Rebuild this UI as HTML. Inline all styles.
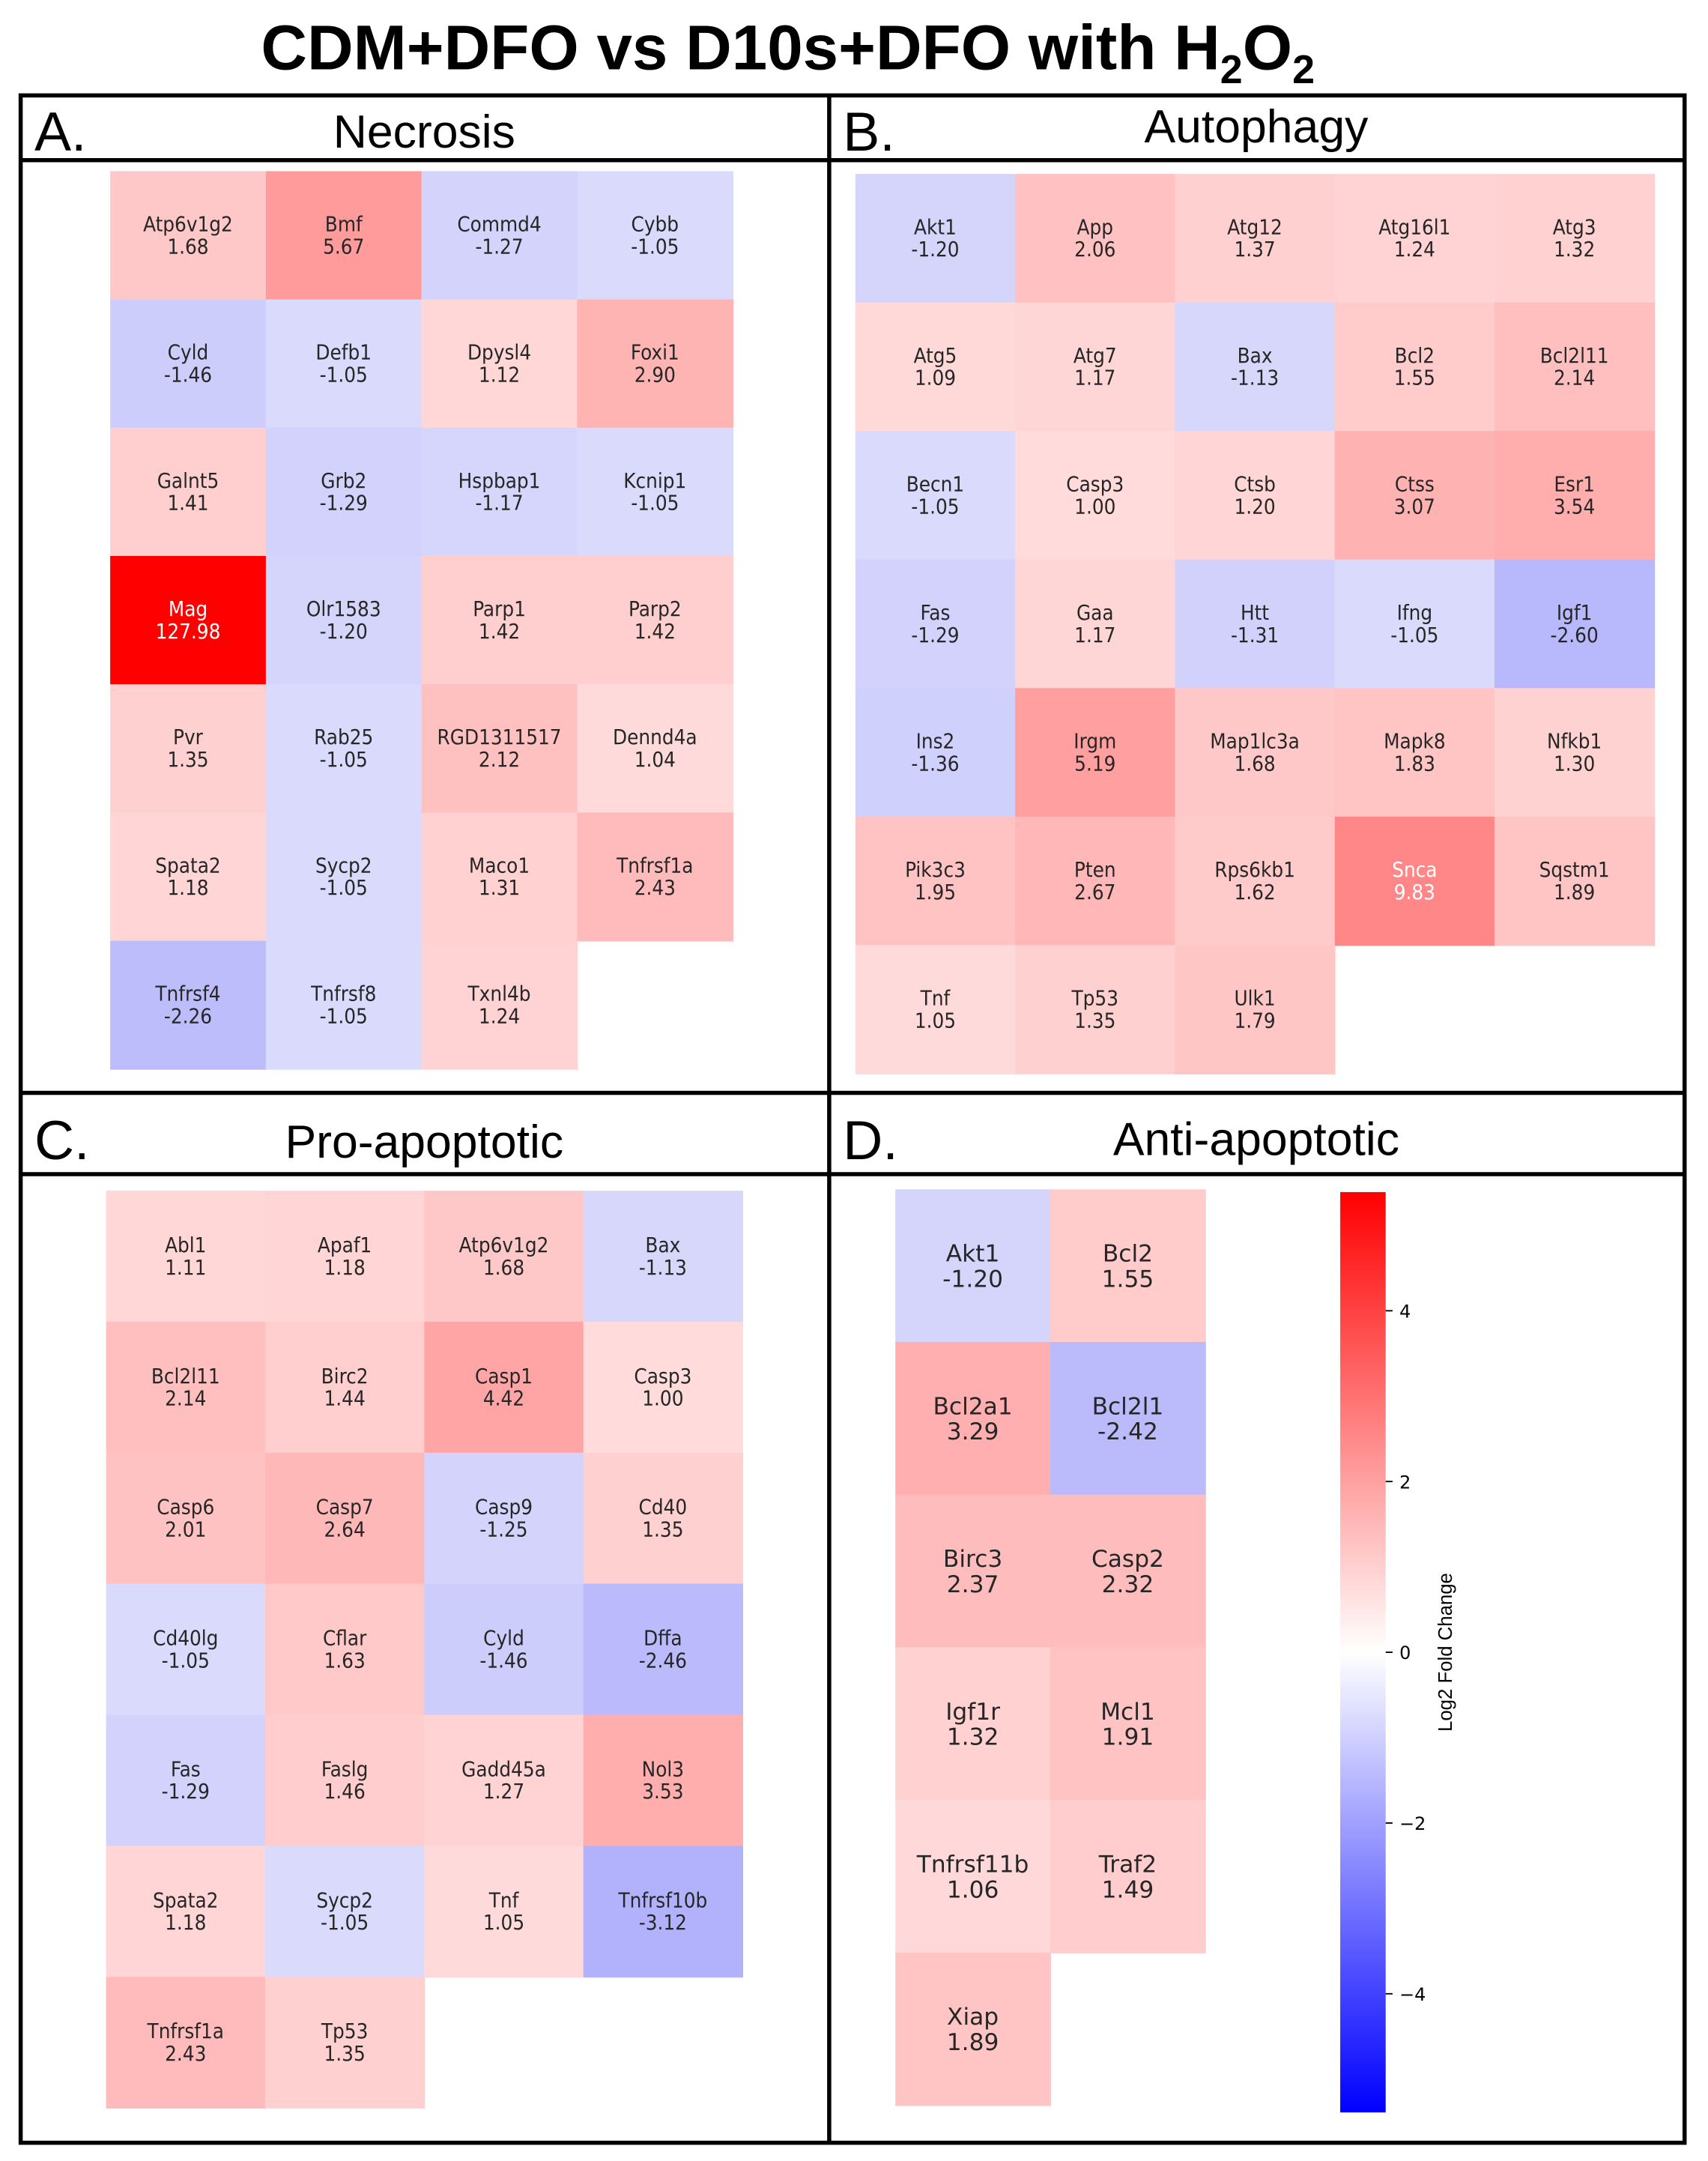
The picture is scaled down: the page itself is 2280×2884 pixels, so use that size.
<!DOCTYPE html>
<html><head><meta charset="utf-8"><style>
html,body{margin:0;padding:0;background:#fff}
svg{display:block}
</style></head><body>
<svg id="fig" width="2280" height="2884" viewBox="0 0 1240 1568" xmlns="http://www.w3.org/2000/svg">
<rect width="1240" height="1568" fill="#fff"/>
<text x="572" y="50" text-anchor="middle" font-family="Liberation Sans, sans-serif" font-weight="bold" font-size="46" textLength="765" lengthAdjust="spacingAndGlyphs">CDM+DFO vs D10s+DFO with H<tspan font-size="29" dy="10">2</tspan><tspan dy="-10">O</tspan><tspan font-size="29" dy="10">2</tspan></text>
<g id="frame" stroke="#000" stroke-width="3" fill="none">
<rect x="15" y="69" width="1208" height="1486"/>
<line x1="602" y1="69" x2="602" y2="1555"/>
<line x1="15" y1="793" x2="1223" y2="793"/>
<line x1="15" y1="116" x2="1223" y2="116"/>
<line x1="15" y1="852" x2="1223" y2="852"/>
</g>
<g font-family="Liberation Sans, sans-serif" fill="#000">
<text x="25" y="109" font-size="40">A.</text>
<text x="308" y="107" font-size="34" text-anchor="middle">Necrosis</text>
<text x="612" y="109" font-size="40">B.</text>
<text x="912" y="103" font-size="34" text-anchor="middle">Autophagy</text>
<text x="25" y="841" font-size="40">C.</text>
<text x="308" y="840" font-size="34" text-anchor="middle">Pro-apoptotic</text>
<text x="612" y="841" font-size="40">D.</text>
<text x="912" y="838" font-size="34" text-anchor="middle">Anti-apoptotic</text>
</g>
<g id="cells"></g>
<g id="cbar"></g>
</svg>
<script>
const necrosisGenes=["Atp6v1g2","Bmf","Commd4","Cybb","Cyld","Defb1","Dpysl4","Foxi1","Galnt5","Grb2","Hspbap1","Kcnip1","Mag","Olr1583","Parp1","Parp2","Pvr","Rab25","RGD1311517","Dennd4a","Spata2","Sycp2","Maco1","Tnfrsf1a","Tnfrsf4","Tnfrsf8","Txnl4b"];
const necrosisValues=[1.68,5.67,-1.27,-1.05,-1.46,-1.05,1.12,2.90,1.41,-1.29,-1.17,-1.05,127.98,-1.20,1.42,1.42,1.35,-1.05,2.12,1.04,1.18,-1.05,1.31,2.43,-2.26,-1.05,1.24];
const autophagyGenes=["Akt1","App","Atg12","Atg16l1","Atg3","Atg5","Atg7","Bax","Bcl2","Bcl2l11","Becn1","Casp3","Ctsb","Ctss","Esr1","Fas","Gaa","Htt","Ifng","Igf1","Ins2","Irgm","Map1lc3a","Mapk8","Nfkb1","Pik3c3","Pten","Rps6kb1","Snca","Sqstm1","Tnf","Tp53","Ulk1"];
const autophagyValues=[-1.20,2.06,1.37,1.24,1.32,1.09,1.17,-1.13,1.55,2.14,-1.05,1.00,1.20,3.07,3.54,-1.29,1.17,-1.31,-1.05,-2.60,-1.36,5.19,1.68,1.83,1.30,1.95,2.67,1.62,9.83,1.89,1.05,1.35,1.79];
const proGenes=["Abl1","Apaf1","Atp6v1g2","Bax","Bcl2l11","Birc2","Casp1","Casp3","Casp6","Casp7","Casp9","Cd40","Cd40lg","Cflar","Cyld","Dffa","Fas","Faslg","Gadd45a","Nol3","Spata2","Sycp2","Tnf","Tnfrsf10b","Tnfrsf1a","Tp53"];
const proValues=[1.11,1.18,1.68,-1.13,2.14,1.44,4.42,1.00,2.01,2.64,-1.25,1.35,-1.05,1.63,-1.46,-2.46,-1.29,1.46,1.27,3.53,1.18,-1.05,1.05,-3.12,2.43,1.35];
const antiGenes=["Akt1","Bcl2","Bcl2a1","Bcl2l1","Birc3","Casp2","Igf1r","Mcl1","Tnfrsf11b","Traf2","Xiap"];
const antiValues=[-1.20,1.55,3.29,-2.42,2.37,2.32,1.32,1.91,1.06,1.49,1.89];
const cbarTicks=[4,2,0,-2,-4];
const VMAX=5.39;

const NS="http://www.w3.org/2000/svg";
function toLog2(v){return v<0?-Math.log2(-v):Math.log2(v);}
function intensity(v){
  const L=Math.abs(toLog2(v));
  if(L>6) return 1;
  return Math.min(1,0.14+0.1*L);
}
function color(v){
  const t=intensity(v);
  if(v>=0){const g=Math.round(255*(1-t));return `rgb(255,${g},${g})`;}
  const r=Math.round(255*(1-t));return `rgb(${r},${r},252)`;
}
const cellsG=document.getElementById('cells');
function heat(prefix,genes,vals,x0,y0,cw,ch,ncol,fs,fam){
  genes.forEach((g,i)=>{
    const c=i%ncol,r=Math.floor(i/ncol);
    const x=x0+c*cw,y=y0+r*ch;
    const grp=document.createElementNS(NS,'g');
    
    
    const rect=document.createElementNS(NS,'rect');
    rect.setAttribute('x',x);rect.setAttribute('y',y);
    rect.setAttribute('width',cw+0.5);rect.setAttribute('height',ch+0.5);
    rect.setAttribute('fill',color(vals[i]));
    grp.appendChild(rect);
    const tc=intensity(vals[i])>0.45?'#fff':'#262626';
    const t=document.createElementNS(NS,'text');
    t.setAttribute('x',x+cw/2);t.setAttribute('y',y+ch/2-3);
    t.setAttribute('text-anchor','middle');
    t.setAttribute('font-family',fam);
    t.setAttribute('font-size',fs);t.setAttribute('fill',tc);
    const s1=document.createElementNS(NS,'tspan');
    s1.setAttribute('x',x+cw/2);s1.textContent=g;
    const s2=document.createElementNS(NS,'tspan');
    s2.setAttribute('x',x+cw/2);s2.setAttribute('dy',fs*1.08);
    s2.textContent=vals[i].toFixed(2);
    t.appendChild(s1);t.appendChild(s2);grp.appendChild(t);
    cellsG.appendChild(grp);
  });
}
const COND='"DejaVu Sans Condensed", "Liberation Sans Narrow", sans-serif';
heat('necrosis',necrosisGenes,necrosisValues,80,124,113,93.1,4,15,COND);
heat('autophagy',autophagyGenes,autophagyValues,621,126,116,93.3,5,15,COND);
heat('pro-apoptotic',proGenes,proValues,77,864,115.5,95.1,4,15,COND);
heat('anti-apoptotic',antiGenes,antiValues,650,863,112.5,110.8,2,17,'DejaVu Sans, sans-serif');

// colorbar
const cb=document.getElementById('cbar');
const cbX=973,cbW=33,cbTop=865,cbBot=1533;
const yOf=v=>cbTop+(VMAX-v)/(2*VMAX)*(cbBot-cbTop);
const defs=document.createElementNS(NS,'defs');
defs.innerHTML='<linearGradient id="bwr" x1="0" y1="0" x2="0" y2="1"><stop offset="0" stop-color="#ff0000"/><stop offset="0.5" stop-color="#ffffff"/><stop offset="1" stop-color="#0000ff"/></linearGradient>';
cb.appendChild(defs);
const bar=document.createElementNS(NS,'rect');


bar.setAttribute('x',cbX);bar.setAttribute('y',cbTop);bar.setAttribute('width',cbW);bar.setAttribute('height',cbBot-cbTop);
bar.setAttribute('fill','url(#bwr)');
cb.appendChild(bar);
cbarTicks.forEach(v=>{
  const y=yOf(v);
  const ln=document.createElementNS(NS,'line');
  
  
  ln.setAttribute('x1',cbX+cbW);ln.setAttribute('x2',cbX+cbW+5);ln.setAttribute('y1',y);ln.setAttribute('y2',y);
  ln.setAttribute('stroke','#000');ln.setAttribute('stroke-width','1');
  cb.appendChild(ln);
  const t=document.createElementNS(NS,'text');
  
  
  t.setAttribute('x',cbX+cbW+10);t.setAttribute('y',y+5);
  t.setAttribute('font-family','DejaVu Sans, sans-serif');t.setAttribute('font-size','13');
  t.textContent=v<0?'\u2212'+Math.abs(v):String(v);
  cb.appendChild(t);
});
const lab=document.createElementNS(NS,'text');


lab.setAttribute('transform','translate(1054,1199) rotate(-90)');
lab.setAttribute('text-anchor','middle');
lab.setAttribute('font-family','Liberation Sans, sans-serif');lab.setAttribute('font-size','14');
lab.textContent='Log2 Fold Change';
cb.appendChild(lab);
</script>
</body></html>
